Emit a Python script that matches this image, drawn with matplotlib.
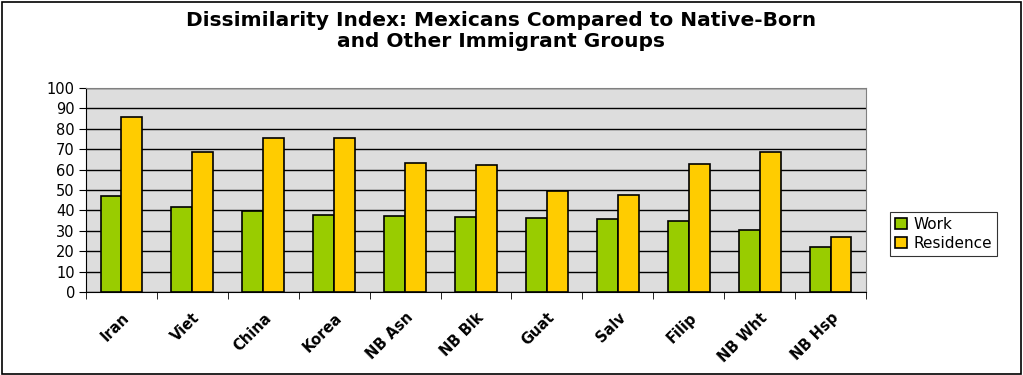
import numpy as np
import matplotlib.pyplot as plt
from matplotlib.patches import Rectangle

categories = ["Iran", "Viet", "China", "Korea", "NB Asn", "NB Blk",
              "Guat", "Salv", "Filip", "NB Wht", "NB Hsp"]
work = [47.0, 41.5, 39.6, 37.8, 37.4, 36.9, 36.5, 36.0, 35.0, 30.2, 22.0]
residence = [86.0, 68.5, 75.7, 75.7, 63.4, 62.4, 49.4, 47.5, 62.9, 68.5, 27.1]

# wide sans face, closest to the stretched Arial of the original
plt.rcParams['font.family'] = ['DejaVu Sans']

fig = plt.figure(figsize=(10.23, 3.75), dpi=100)
ax = fig.add_axes([86 / 1023, 1 - 292 / 375, 780 / 1023, 204 / 375])

x = np.arange(len(categories))
w = 0.295
ax.bar(x - w / 2, work, w, color="#99CC00", edgecolor="black", linewidth=1.2,
       label="Work", zorder=3)
ax.bar(x + w / 2, residence, w, color="#FFCC00", edgecolor="black", linewidth=1.2,
       label="Residence", zorder=3)

ax.set_facecolor("#DDDDDD")
ax.set_xlim(-0.5, len(categories) - 0.5)
ax.set_ylim(0, 100)
ax.set_yticks(range(0, 101, 10))
ax.yaxis.grid(True, color="black", linewidth=1.0, zorder=0)
ax.set_axisbelow(True)
ax.tick_params(axis="y", labelsize=10.5, length=5, direction="out", pad=3)

ax.set_xticks(x)
ax.set_xticklabels(categories, rotation=45, ha="right", rotation_mode="anchor",
                   fontsize=10.5, fontweight="bold")
ax.set_xticks(np.arange(-0.5, len(categories), 1), minor=True)
ax.tick_params(axis="x", which="major", length=0, pad=13)
ax.tick_params(axis="x", which="minor", length=5, direction="out")

for side in ["top", "right"]:
    ax.spines[side].set_color("#808080")
ax.spines["left"].set_color("black")
ax.spines["bottom"].set_color("black")

fig.text(0.49, 1 - 31 / 375, "Dissimilarity Index: Mexicans Compared to Native-Born\nand Other Immigrant Groups",
         ha="center", va="center", fontsize=14.5, fontweight="bold", linespacing=1.1)

leg = fig.legend(loc="center left", bbox_to_anchor=(882 / 1023, 1 - 234 / 375),
                 frameon=True, fancybox=False, edgecolor="black", fontsize=11,
                 handlelength=0.8, handleheight=0.7, handletextpad=0.4,
                 borderpad=0.35, labelspacing=0.25)
leg.get_frame().set_linewidth(0.8)

fig.patches.append(Rectangle((0.002, 0.004), 0.996, 0.992, transform=fig.transFigure,
                             fill=False, edgecolor="black", linewidth=1.2))

fig.savefig("out.png", dpi=100)
